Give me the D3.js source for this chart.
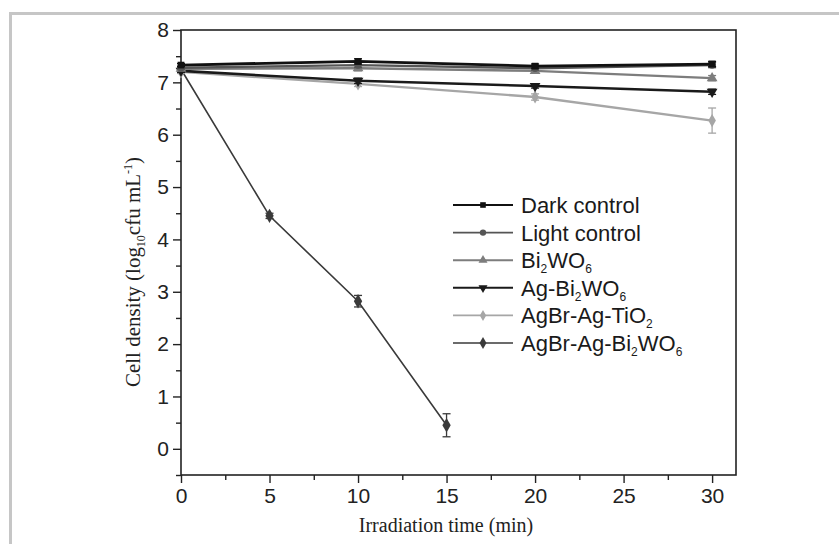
<!DOCTYPE html>
<html lang="en">
<head>
<meta charset="utf-8">
<title>Cell density</title>
<script src="https://d3js.org/d3.v7.min.js"></script>
<style>
  body { margin: 0; background: #fff; }
</style>
</head>
<body>
<svg id="chart" width="839" height="544"></svg>
<script>
// data
var seriesNames = ["Dark control", "Light control", "Bi2WO6", "Ag-Bi2WO6", "AgBr-Ag-TiO2", "AgBr-Ag-Bi2WO6"];
var timesLong = [0, 10, 20, 30];
var timesShort = [0, 5, 10, 15];
var darkControl = [7.33, 7.4, 7.31, 7.35];
var lightControl = [7.28, 7.33, 7.27, 7.33];
var bi2wo6 = [7.26, 7.27, 7.22, 7.08];
var agBi2wo6 = [7.22, 7.03, 6.93, 6.82];
var agbrTio2 = [7.2, 6.97, 6.72, 6.27];
var agbrBi2wo6 = [7.25, 4.45, 2.82, 0.45];
var errTio2 = [0.03, 0.05, 0.06, 0.24];
var errBi2wo6 = [0.03, 0.05, 0.11, 0.22];
var errSmall = [0.03, 0.05, 0.04, 0.05];
var xTicks = [0, 5, 10, 15, 20, 25, 30];
var yTicks = [0, 1, 2, 3, 4, 5, 6, 7, 8];

var sans = "Liberation Sans, Arial, sans-serif";
var serif = "Liberation Serif, Times New Roman, serif";
var svg = d3.select("#chart");

// outer frame of the figure
svg.append("path")
  .attr("d", "M10.5,545 V13.5 H845")
  .attr("fill", "none").attr("stroke", "#c6c6c6").attr("stroke-width", 3);

var margin = {left: 181, top: 30, right: 736, bottom: 475};
var x = d3.scaleLinear().domain([0, 31.35]).range([margin.left, margin.right]);
var y = d3.scaleLinear().domain([-0.5, 8]).range([margin.bottom, margin.top]);

// frame
svg.append("rect")
  .attr("x", margin.left).attr("y", margin.top)
  .attr("width", margin.right - margin.left).attr("height", margin.bottom - margin.top)
  .attr("fill", "none").attr("stroke", "#222").attr("stroke-width", 1.6);

// axes
svg.append("g").attr("transform", "translate(0," + margin.bottom + ")")
  .call(d3.axisBottom(x).tickValues(xTicks).tickSize(8).tickPadding(5).tickFormat(d3.format("d")));
svg.append("g").attr("transform", "translate(0," + margin.bottom + ")")
  .call(d3.axisBottom(x).tickValues([2.5, 7.5, 12.5, 17.5, 22.5, 27.5]).tickSize(5).tickFormat(""));
svg.append("g").attr("transform", "translate(" + margin.left + ",0)")
  .call(d3.axisLeft(y).tickValues(yTicks).tickSize(8).tickPadding(4).tickFormat(d3.format("d")));
svg.append("g").attr("transform", "translate(" + margin.left + ",0)")
  .call(d3.axisLeft(y).tickValues([-0.5, 0.5, 1.5, 2.5, 3.5, 4.5, 5.5, 6.5, 7.5]).tickSize(5).tickFormat(""));
svg.selectAll(".domain").remove();
svg.selectAll(".tick line").attr("stroke", "#222").attr("stroke-width", 1.4);
svg.selectAll(".tick text").attr("font-size", 21).attr("font-family", sans).attr("fill", "#222");

// axis titles
svg.append("text")
  .attr("x", 446).attr("y", 532).attr("text-anchor", "middle")
  .attr("font-family", serif).attr("font-size", 20).attr("fill", "#222")
  .text("Irradiation time (min)");

var yt = svg.append("text")
  .attr("transform", "translate(140,272) rotate(-90)").attr("text-anchor", "middle")
  .attr("font-family", serif).attr("font-size", 21).attr("fill", "#222");
yt.append("tspan").text("Cell density (log");
yt.append("tspan").attr("font-size", 12).attr("dy", 5).text("10");
yt.append("tspan").attr("dy", -5).text("cfu mL");
yt.append("tspan").attr("font-size", 12).attr("dy", -8).text("-1");
yt.append("tspan").attr("dy", 8).text(")");

// series
var series = [
  {name: seriesNames[0], t: timesLong, v: darkControl, e: errSmall, color: "#111", sym: d3.symbolSquare, w: 2.8, size: 45},
  {name: seriesNames[1], t: timesLong, v: lightControl, e: errSmall, color: "#555", sym: d3.symbolCircle, w: 2.4, size: 45},
  {name: seriesNames[2], t: timesLong, v: bi2wo6, e: errSmall, color: "#7d7d7d", sym: d3.symbolTriangle, w: 2.4, size: 50, rot: 0},
  {name: seriesNames[3], t: timesLong, v: agBi2wo6, e: errSmall, color: "#1a1a1a", sym: d3.symbolTriangle, w: 2.6, size: 50, rot: 180},
  {name: seriesNames[4], t: timesLong, v: agbrTio2, e: errTio2, color: "#a6a6a6", sym: d3.symbolDiamond, w: 2.4, size: 50},
  {name: seriesNames[5], t: timesShort, v: agbrBi2wo6, e: errBi2wo6, color: "#3a3a3a", sym: d3.symbolDiamond, w: 1.6, size: 60}
];

var line = d3.line().x(function(d){ return x(d[0]); }).y(function(d){ return y(d[1]); });

series.slice().reverse().forEach(function(s) {
  var pts = s.t.map(function(t, i){ return [t, s.v[i], s.e[i]]; });
  var g = svg.append("g");
  g.append("path").datum(pts).attr("d", line)
    .attr("fill", "none").attr("stroke", s.color).attr("stroke-width", s.w);
  // error bars
  pts.forEach(function(p) {
    var x0 = x(p[0]), y1 = y(p[1] + p[2]), y2 = y(p[1] - p[2]);
    g.append("line").attr("x1", x0).attr("x2", x0).attr("y1", y1).attr("y2", y2)
      .attr("stroke", s.color).attr("stroke-width", 1.3);
    [y1, y2].forEach(function(yy) {
      g.append("line").attr("x1", x0 - 4).attr("x2", x0 + 4).attr("y1", yy).attr("y2", yy)
        .attr("stroke", s.color).attr("stroke-width", 1.3);
    });
  });
  g.selectAll("path.m").data(pts).enter().append("path")
    .attr("transform", function(d){ return "translate(" + x(d[0]) + "," + y(d[1]) + ") rotate(" + (s.rot || 0) + ")"; })
    .attr("d", d3.symbol().type(s.sym).size(s.size))
    .attr("fill", s.color);
});

// legend
var lg = svg.append("g").attr("transform", "translate(453,205)");
series.forEach(function(s, i) {
  var row = lg.append("g").attr("transform", "translate(0," + (i * 27.6) + ")");
  row.append("line").attr("x1", 0).attr("x2", 60).attr("y1", 0).attr("y2", 0)
    .attr("stroke", s.color).attr("stroke-width", s.w * 0.8);
  row.append("path").attr("transform", "translate(30,0) rotate(" + (s.rot || 0) + ")")
    .attr("d", d3.symbol().type(s.sym).size(s.size * 0.7)).attr("fill", s.color);
  var t = row.append("text").attr("x", 68).attr("y", 8).attr("font-size", 22)
    .attr("font-family", sans).attr("fill", "#1a1a1a");
  var parts = s.name.split(/(\d+)/);
  parts.forEach(function(p, j) {
    if (p === "") return;
    var isNum = j % 2 === 1;
    var ts = t.append("tspan").text(p);
    if (isNum) ts.attr("font-size", 12).attr("dy", 5);
    else if (j > 0) ts.attr("dy", -5);
  });
});
</script>
</body>
</html>
